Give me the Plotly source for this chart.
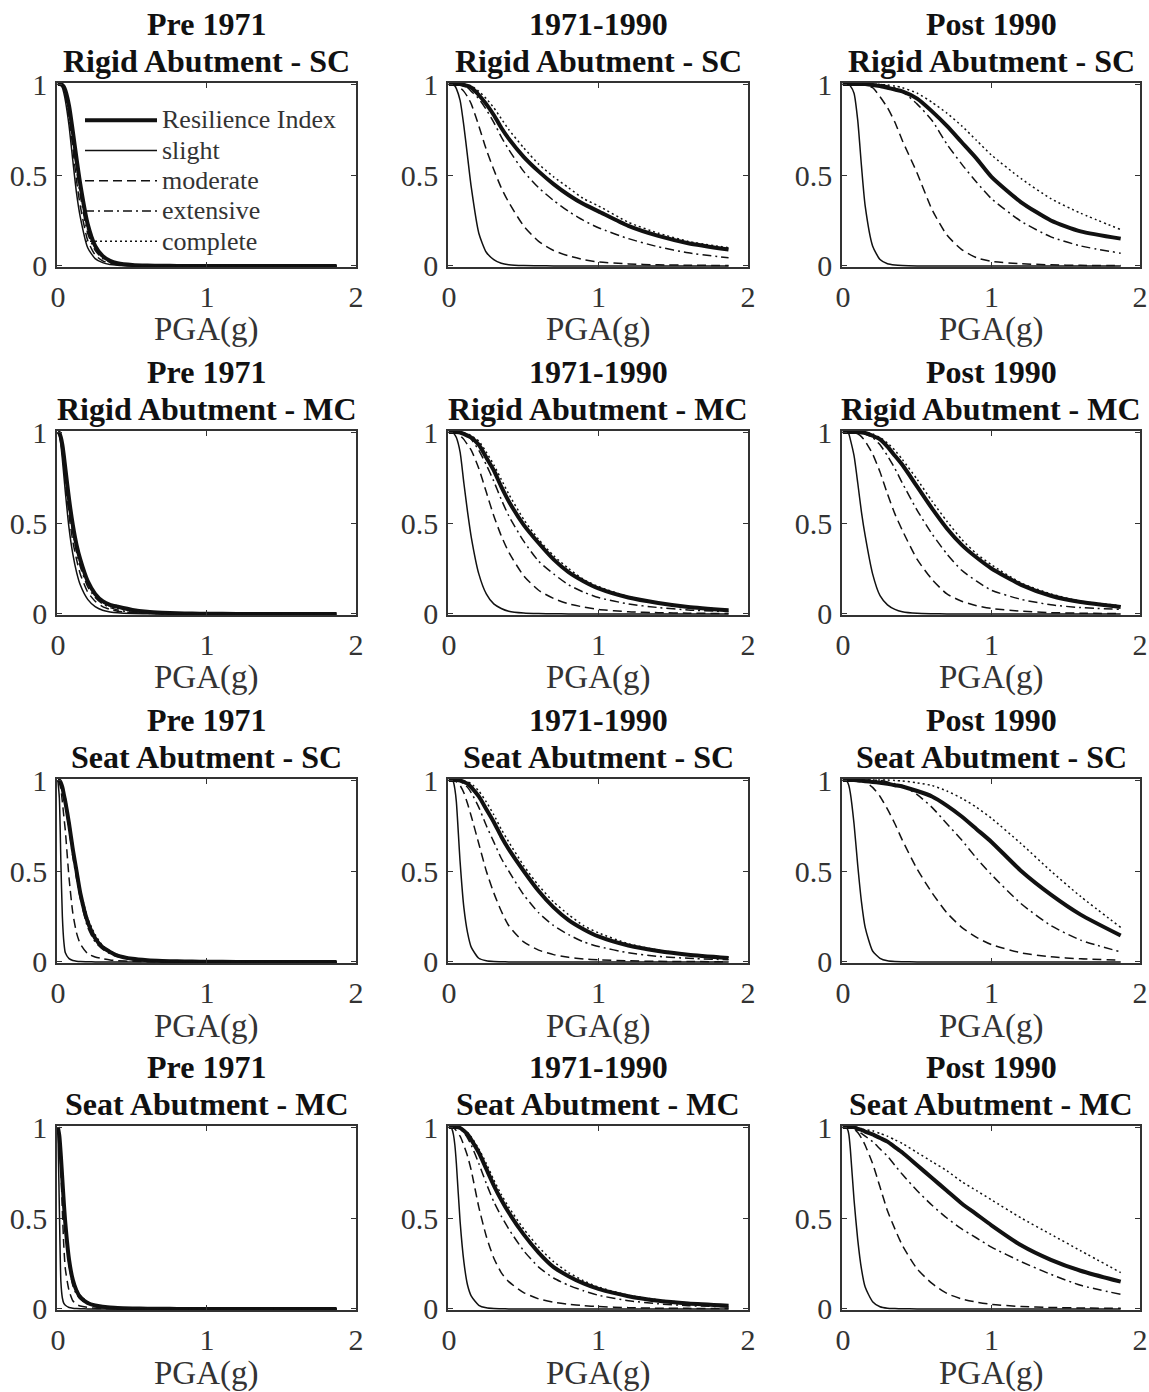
import plotly.graph_objects as go

# Peak ground acceleration sampling points (g)
PGA = [0, 0.01, 0.02, 0.03, 0.04, 0.05, 0.075, 0.1, 0.125, 0.15, 0.2, 0.25, 0.3,
       0.35, 0.4, 0.5, 0.6, 0.7, 0.8, 0.9, 1.0, 1.2, 1.4, 1.6, 1.87]

ERAS = ["Pre 1971", "1971-1990", "Post 1990"]
BRIDGE_TYPES = ["Rigid Abutment - SC", "Rigid Abutment - MC",
                "Seat Abutment - SC", "Seat Abutment - MC"]
SERIES_NAMES = ["Resilience Index", "slight", "moderate", "extensive", "complete"]

# ---- Rigid abutment, single-column bents ----
rigid_sc_pre_ri = [1, 1, 0.999, 0.995, 0.985, 0.965, 0.88, 0.74, 0.59, 0.45, 0.23, 0.11, 0.055, 0.028, 0.015, 0.005, 0.002, 0.001, 0, 0, 0, 0, 0, 0, 0]
rigid_sc_pre_slight = [1, 1, 0.995, 0.98, 0.95, 0.91, 0.77, 0.58, 0.4, 0.27, 0.1, 0.04, 0.018, 0.008, 0.004, 0.001, 0, 0, 0, 0, 0, 0, 0, 0, 0]
rigid_sc_pre_moderate = [1, 1, 0.997, 0.99, 0.97, 0.94, 0.82, 0.65, 0.47, 0.33, 0.14, 0.06, 0.028, 0.013, 0.007, 0.002, 0.001, 0, 0, 0, 0, 0, 0, 0, 0]
rigid_sc_pre_extensive = [1, 1, 0.998, 0.99, 0.975, 0.95, 0.85, 0.69, 0.53, 0.39, 0.18, 0.085, 0.04, 0.02, 0.01, 0.003, 0.001, 0, 0, 0, 0, 0, 0, 0, 0]
rigid_sc_pre_complete = [1, 1, 0.998, 0.993, 0.98, 0.955, 0.86, 0.72, 0.56, 0.42, 0.2, 0.1, 0.05, 0.025, 0.013, 0.004, 0.0015, 0, 0, 0, 0, 0, 0, 0, 0]

rigid_sc_mid_ri = [1, 1, 1, 1, 1, 1, 1, 0.995, 0.99, 0.98, 0.94, 0.89, 0.83, 0.76, 0.7, 0.6, 0.52, 0.45, 0.39, 0.34, 0.3, 0.22, 0.165, 0.125, 0.09]
rigid_sc_mid_slight = [1, 1, 0.998, 0.995, 0.99, 0.975, 0.91, 0.77, 0.6, 0.43, 0.18, 0.075, 0.035, 0.015, 0.007, 0.002, 0.001, 0, 0, 0, 0, 0, 0, 0, 0]
rigid_sc_mid_moderate = [1, 1, 1, 1, 0.998, 0.995, 0.98, 0.96, 0.93, 0.89, 0.77, 0.64, 0.53, 0.43, 0.35, 0.22, 0.135, 0.085, 0.055, 0.035, 0.022, 0.011, 0.006, 0.004, 0.002]
rigid_sc_mid_extensive = [1, 1, 1, 1, 1, 1, 0.998, 0.99, 0.98, 0.96, 0.92, 0.86, 0.79, 0.71, 0.64, 0.52, 0.43, 0.36, 0.3, 0.25, 0.21, 0.15, 0.105, 0.072, 0.045]
rigid_sc_mid_complete = [1, 1, 1, 1, 1, 1, 1, 1, 0.995, 0.99, 0.96, 0.92, 0.87, 0.81, 0.75, 0.65, 0.56, 0.49, 0.43, 0.37, 0.33, 0.24, 0.18, 0.135, 0.1]

rigid_sc_post_ri = [1, 1, 1, 1, 1, 1, 1, 1, 1, 1, 0.995, 0.99, 0.98, 0.97, 0.96, 0.92, 0.85, 0.77, 0.68, 0.59, 0.49, 0.35, 0.25, 0.19, 0.15]
rigid_sc_post_slight = [1, 1, 1, 1, 0.998, 0.99, 0.95, 0.8, 0.55, 0.33, 0.11, 0.035, 0.012, 0.005, 0.002, 0, 0, 0, 0, 0, 0, 0, 0, 0, 0]
rigid_sc_post_moderate = [1, 1, 1, 1, 1, 1, 1, 1, 0.998, 0.995, 0.98, 0.93, 0.87, 0.79, 0.69, 0.51, 0.31, 0.17, 0.09, 0.045, 0.025, 0.012, 0.006, 0.003, 0.002]
rigid_sc_post_extensive = [1, 1, 1, 1, 1, 1, 1, 1, 1, 1, 1, 0.998, 0.99, 0.98, 0.96, 0.89, 0.8, 0.67, 0.56, 0.46, 0.37, 0.245, 0.16, 0.11, 0.07]
rigid_sc_post_complete = [1, 1, 1, 1, 1, 1, 1, 1, 1, 1, 1, 0.998, 0.995, 0.99, 0.98, 0.95, 0.9, 0.84, 0.77, 0.69, 0.61, 0.48, 0.37, 0.29, 0.2]

# ---- Rigid abutment, multi-column bents ----
rigid_mc_pre_ri = [1, 0.995, 0.97, 0.93, 0.87, 0.8, 0.63, 0.49, 0.38, 0.3, 0.18, 0.11, 0.07, 0.05, 0.04, 0.022, 0.012, 0.007, 0.004, 0.002, 0.001, 0, 0, 0, 0]
rigid_mc_pre_slight = [1, 0.98, 0.93, 0.85, 0.76, 0.67, 0.47, 0.33, 0.23, 0.16, 0.08, 0.04, 0.02, 0.011, 0.006, 0.002, 0.001, 0, 0, 0, 0, 0, 0, 0, 0]
rigid_mc_pre_moderate = [1, 0.985, 0.95, 0.89, 0.81, 0.73, 0.54, 0.4, 0.3, 0.22, 0.12, 0.07, 0.04, 0.025, 0.015, 0.006, 0.003, 0.001, 0, 0, 0, 0, 0, 0, 0]
rigid_mc_pre_extensive = [1, 0.99, 0.96, 0.91, 0.84, 0.76, 0.58, 0.45, 0.34, 0.26, 0.15, 0.09, 0.055, 0.035, 0.022, 0.009, 0.004, 0.002, 0.001, 0, 0, 0, 0, 0, 0]
rigid_mc_pre_complete = [1, 0.99, 0.965, 0.92, 0.85, 0.78, 0.6, 0.47, 0.36, 0.28, 0.17, 0.1, 0.065, 0.042, 0.03, 0.015, 0.008, 0.004, 0.002, 0.001, 0, 0, 0, 0, 0]

rigid_mc_mid_ri = [1, 1, 1, 1, 1, 1, 0.998, 0.99, 0.98, 0.97, 0.93, 0.86, 0.79, 0.7, 0.62, 0.49, 0.39, 0.3, 0.23, 0.18, 0.14, 0.09, 0.06, 0.038, 0.02]
rigid_mc_mid_slight = [1, 1, 1, 0.995, 0.985, 0.97, 0.89, 0.72, 0.56, 0.42, 0.22, 0.11, 0.055, 0.03, 0.015, 0.005, 0.002, 0.001, 0, 0, 0, 0, 0, 0, 0]
rigid_mc_mid_moderate = [1, 1, 1, 1, 0.998, 0.995, 0.98, 0.96, 0.93, 0.9, 0.8, 0.67, 0.54, 0.43, 0.34, 0.21, 0.13, 0.085, 0.055, 0.038, 0.025, 0.012, 0.007, 0.004, 0.002]
rigid_mc_mid_extensive = [1, 1, 1, 1, 1, 1, 0.998, 0.99, 0.98, 0.96, 0.9, 0.82, 0.73, 0.63, 0.54, 0.4, 0.29, 0.22, 0.16, 0.12, 0.09, 0.055, 0.035, 0.022, 0.013]
rigid_mc_mid_complete = [1, 1, 1, 1, 1, 1, 1, 0.995, 0.99, 0.98, 0.95, 0.89, 0.82, 0.74, 0.66, 0.52, 0.41, 0.32, 0.25, 0.19, 0.15, 0.095, 0.06, 0.04, 0.022]

rigid_mc_post_ri = [1, 1, 1, 1, 1, 1, 1, 1, 0.998, 0.995, 0.98, 0.96, 0.92, 0.87, 0.82, 0.7, 0.58, 0.47, 0.38, 0.31, 0.25, 0.16, 0.1, 0.065, 0.038]
rigid_mc_post_slight = [1, 1, 1, 0.998, 0.99, 0.96, 0.87, 0.72, 0.56, 0.43, 0.22, 0.1, 0.05, 0.025, 0.012, 0.003, 0.001, 0, 0, 0, 0, 0, 0, 0, 0]
rigid_mc_post_moderate = [1, 1, 1, 1, 1, 1, 0.998, 0.99, 0.975, 0.95, 0.88, 0.78, 0.66, 0.55, 0.46, 0.3, 0.19, 0.11, 0.07, 0.045, 0.03, 0.015, 0.007, 0.004, 0.002]
rigid_mc_post_extensive = [1, 1, 1, 1, 1, 1, 1, 1, 0.998, 0.99, 0.97, 0.93, 0.87, 0.8, 0.72, 0.57, 0.44, 0.33, 0.24, 0.18, 0.13, 0.08, 0.05, 0.035, 0.025]
rigid_mc_post_complete = [1, 1, 1, 1, 1, 1, 1, 1, 1, 0.998, 0.99, 0.97, 0.94, 0.9, 0.85, 0.74, 0.62, 0.51, 0.41, 0.33, 0.27, 0.17, 0.11, 0.07, 0.045]

# ---- Seat abutment, single-column bents ----
seat_sc_pre_ri = [1, 0.997, 0.985, 0.96, 0.92, 0.88, 0.76, 0.62, 0.5, 0.38, 0.22, 0.13, 0.08, 0.055, 0.035, 0.017, 0.009, 0.005, 0.003, 0.002, 0.001, 0, 0, 0, 0]
seat_sc_pre_slight = [1, 0.9, 0.55, 0.25, 0.11, 0.05, 0.018, 0.008, 0.004, 0.002, 0.001, 0, 0, 0, 0, 0, 0, 0, 0, 0, 0, 0, 0, 0, 0]
seat_sc_pre_moderate = [1, 0.985, 0.95, 0.88, 0.8, 0.72, 0.46, 0.27, 0.16, 0.1, 0.045, 0.027, 0.018, 0.011, 0.007, 0.003, 0.001, 0, 0, 0, 0, 0, 0, 0, 0]
seat_sc_pre_extensive = [1, 0.995, 0.98, 0.95, 0.91, 0.86, 0.73, 0.58, 0.46, 0.35, 0.19, 0.11, 0.07, 0.045, 0.03, 0.013, 0.006, 0.003, 0.002, 0.001, 0, 0, 0, 0, 0]
seat_sc_pre_complete = [1, 0.997, 0.985, 0.96, 0.93, 0.9, 0.78, 0.64, 0.52, 0.4, 0.24, 0.15, 0.09, 0.06, 0.04, 0.02, 0.01, 0.005, 0.003, 0.002, 0.001, 0, 0, 0, 0]

seat_sc_mid_ri = [1, 1, 1, 1, 1, 1, 0.998, 0.99, 0.98, 0.96, 0.91, 0.84, 0.77, 0.69, 0.62, 0.5, 0.39, 0.3, 0.23, 0.18, 0.14, 0.09, 0.06, 0.04, 0.022]
seat_sc_mid_slight = [1, 1, 0.998, 0.99, 0.95, 0.88, 0.55, 0.3, 0.16, 0.08, 0.02, 0.006, 0.002, 0.001, 0, 0, 0, 0, 0, 0, 0, 0, 0, 0, 0]
seat_sc_mid_moderate = [1, 1, 1, 1, 0.998, 0.99, 0.97, 0.93, 0.87, 0.8, 0.65, 0.5, 0.38, 0.28, 0.2, 0.11, 0.065, 0.04, 0.025, 0.016, 0.011, 0.006, 0.003, 0.002, 0.001]
seat_sc_mid_extensive = [1, 1, 1, 1, 1, 1, 0.995, 0.98, 0.96, 0.93, 0.85, 0.75, 0.66, 0.57, 0.5, 0.37, 0.27, 0.2, 0.15, 0.11, 0.085, 0.05, 0.03, 0.02, 0.012]
seat_sc_mid_complete = [1, 1, 1, 1, 1, 1, 1, 0.995, 0.99, 0.98, 0.94, 0.88, 0.81, 0.73, 0.66, 0.53, 0.42, 0.33, 0.26, 0.2, 0.16, 0.1, 0.065, 0.042, 0.025]

seat_sc_post_ri = [1, 1, 1, 1, 1, 1, 1, 0.998, 0.996, 0.994, 0.99, 0.985, 0.98, 0.972, 0.965, 0.94, 0.91, 0.86, 0.8, 0.73, 0.66, 0.5, 0.37, 0.26, 0.145]
seat_sc_post_slight = [1, 1, 0.998, 0.99, 0.97, 0.93, 0.76, 0.53, 0.33, 0.19, 0.06, 0.02, 0.006, 0.002, 0.001, 0, 0, 0, 0, 0, 0, 0, 0, 0, 0]
seat_sc_post_moderate = [1, 1, 1, 1, 1, 1, 1, 1, 0.995, 0.99, 0.96, 0.91, 0.84, 0.76, 0.67, 0.51, 0.38, 0.27, 0.19, 0.135, 0.095, 0.05, 0.028, 0.017, 0.01]
seat_sc_post_extensive = [1, 1, 1, 1, 1, 1, 1, 1, 1, 1, 1, 0.998, 0.99, 0.98, 0.97, 0.92, 0.85, 0.76, 0.67, 0.57, 0.48, 0.32, 0.2, 0.12, 0.055]
seat_sc_post_complete = [1, 1, 1, 1, 1, 1, 1, 1, 1, 1, 1, 1, 1, 0.998, 0.995, 0.985, 0.97, 0.94, 0.9, 0.85, 0.79, 0.65, 0.5, 0.36, 0.19]

# ---- Seat abutment, multi-column bents ----
seat_mc_pre_ri = [1, 0.95, 0.84, 0.71, 0.58, 0.47, 0.27, 0.16, 0.1, 0.065, 0.033, 0.019, 0.012, 0.008, 0.005, 0.0025, 0.0012, 0.001, 0, 0, 0, 0, 0, 0, 0]
seat_mc_pre_slight = [1, 0.55, 0.15, 0.06, 0.03, 0.02, 0.008, 0.004, 0.002, 0.001, 0, 0, 0, 0, 0, 0, 0, 0, 0, 0, 0, 0, 0, 0, 0]
seat_mc_pre_moderate = [1, 0.93, 0.77, 0.54, 0.34, 0.22, 0.1, 0.045, 0.025, 0.016, 0.008, 0.004, 0.002, 0.001, 0, 0, 0, 0, 0, 0, 0, 0, 0, 0, 0]
seat_mc_pre_extensive = [1, 0.95, 0.83, 0.68, 0.54, 0.43, 0.24, 0.13, 0.08, 0.055, 0.028, 0.015, 0.009, 0.006, 0.004, 0.002, 0.001, 0, 0, 0, 0, 0, 0, 0, 0]
seat_mc_pre_complete = [1, 0.96, 0.86, 0.73, 0.6, 0.49, 0.29, 0.17, 0.11, 0.075, 0.038, 0.022, 0.013, 0.009, 0.006, 0.003, 0.0015, 0.001, 0, 0, 0, 0, 0, 0, 0]

seat_mc_mid_ri = [1, 1, 1, 1, 1, 1, 0.995, 0.98, 0.96, 0.93, 0.86, 0.77, 0.68, 0.6, 0.53, 0.41, 0.31, 0.23, 0.18, 0.14, 0.11, 0.07, 0.045, 0.03, 0.018]
seat_mc_mid_slight = [1, 1, 0.99, 0.96, 0.9, 0.8, 0.48, 0.26, 0.13, 0.07, 0.02, 0.006, 0.002, 0.001, 0, 0, 0, 0, 0, 0, 0, 0, 0, 0, 0]
seat_mc_mid_moderate = [1, 1, 1, 0.998, 0.99, 0.98, 0.95, 0.9, 0.84, 0.76, 0.56, 0.4, 0.28, 0.2, 0.15, 0.09, 0.055, 0.037, 0.025, 0.018, 0.013, 0.007, 0.004, 0.003, 0.002]
seat_mc_mid_extensive = [1, 1, 1, 1, 1, 1, 0.99, 0.97, 0.94, 0.9, 0.8, 0.69, 0.59, 0.51, 0.44, 0.32, 0.23, 0.17, 0.13, 0.1, 0.075, 0.045, 0.028, 0.018, 0.011]
seat_mc_mid_complete = [1, 1, 1, 1, 1, 1, 0.998, 0.985, 0.97, 0.945, 0.88, 0.8, 0.71, 0.63, 0.56, 0.44, 0.34, 0.26, 0.2, 0.155, 0.12, 0.075, 0.05, 0.033, 0.02]

seat_mc_post_ri = [1, 1, 1, 1, 1, 1, 1, 0.99, 0.985, 0.975, 0.96, 0.94, 0.92, 0.89, 0.86, 0.79, 0.72, 0.65, 0.58, 0.52, 0.46, 0.35, 0.27, 0.21, 0.15]
seat_mc_post_slight = [1, 1, 0.998, 0.99, 0.96, 0.88, 0.6, 0.38, 0.22, 0.12, 0.04, 0.012, 0.004, 0.002, 0.001, 0, 0, 0, 0, 0, 0, 0, 0, 0, 0]
seat_mc_post_moderate = [1, 1, 1, 1, 1, 1, 0.99, 0.97, 0.94, 0.9, 0.8, 0.67, 0.54, 0.44, 0.35, 0.22, 0.14, 0.085, 0.055, 0.037, 0.025, 0.013, 0.008, 0.005, 0.003]
seat_mc_post_extensive = [1, 1, 1, 1, 1, 0.998, 0.99, 0.975, 0.965, 0.95, 0.92, 0.88, 0.84, 0.79, 0.74, 0.65, 0.57, 0.5, 0.44, 0.39, 0.34, 0.26, 0.19, 0.13, 0.08]
seat_mc_post_complete = [1, 1, 1, 1, 1, 1, 1, 0.995, 0.99, 0.985, 0.98, 0.965, 0.95, 0.93, 0.91, 0.86, 0.81, 0.76, 0.7, 0.65, 0.6, 0.5, 0.41, 0.32, 0.2]

# Panels in row-major order: (era title, bridge class title, [RI, slight, moderate, extensive, complete])
panels = [
    (ERAS[0], BRIDGE_TYPES[0], [rigid_sc_pre_ri, rigid_sc_pre_slight, rigid_sc_pre_moderate, rigid_sc_pre_extensive, rigid_sc_pre_complete]),
    (ERAS[1], BRIDGE_TYPES[0], [rigid_sc_mid_ri, rigid_sc_mid_slight, rigid_sc_mid_moderate, rigid_sc_mid_extensive, rigid_sc_mid_complete]),
    (ERAS[2], BRIDGE_TYPES[0], [rigid_sc_post_ri, rigid_sc_post_slight, rigid_sc_post_moderate, rigid_sc_post_extensive, rigid_sc_post_complete]),
    (ERAS[0], BRIDGE_TYPES[1], [rigid_mc_pre_ri, rigid_mc_pre_slight, rigid_mc_pre_moderate, rigid_mc_pre_extensive, rigid_mc_pre_complete]),
    (ERAS[1], BRIDGE_TYPES[1], [rigid_mc_mid_ri, rigid_mc_mid_slight, rigid_mc_mid_moderate, rigid_mc_mid_extensive, rigid_mc_mid_complete]),
    (ERAS[2], BRIDGE_TYPES[1], [rigid_mc_post_ri, rigid_mc_post_slight, rigid_mc_post_moderate, rigid_mc_post_extensive, rigid_mc_post_complete]),
    (ERAS[0], BRIDGE_TYPES[2], [seat_sc_pre_ri, seat_sc_pre_slight, seat_sc_pre_moderate, seat_sc_pre_extensive, seat_sc_pre_complete]),
    (ERAS[1], BRIDGE_TYPES[2], [seat_sc_mid_ri, seat_sc_mid_slight, seat_sc_mid_moderate, seat_sc_mid_extensive, seat_sc_mid_complete]),
    (ERAS[2], BRIDGE_TYPES[2], [seat_sc_post_ri, seat_sc_post_slight, seat_sc_post_moderate, seat_sc_post_extensive, seat_sc_post_complete]),
    (ERAS[0], BRIDGE_TYPES[3], [seat_mc_pre_ri, seat_mc_pre_slight, seat_mc_pre_moderate, seat_mc_pre_extensive, seat_mc_pre_complete]),
    (ERAS[1], BRIDGE_TYPES[3], [seat_mc_mid_ri, seat_mc_mid_slight, seat_mc_mid_moderate, seat_mc_mid_extensive, seat_mc_mid_complete]),
    (ERAS[2], BRIDGE_TYPES[3], [seat_mc_post_ri, seat_mc_post_slight, seat_mc_post_moderate, seat_mc_post_extensive, seat_mc_post_complete]),
]

# Line style for each series
LINE_STYLES = [
    dict(width=4, dash="solid"),
    dict(width=1.5, dash="solid"),
    dict(width=1.5, dash="9px,5px"),
    dict(width=1.5, dash="9px,4px,2px,4px"),
    dict(width=1.5, dash="2px,3px"),
]

W, H = 1149, 1392
FONT = "Liberation Serif"
INK = "#111111"
AXIS = "#333333"
COLS = [(57, 356), (448, 748), (842, 1140)]
ROWS = [(83, 267), (431, 615), (779, 963), (1126, 1310)]

fig = go.Figure()
annotations = []

for i, (era, kind, curves) in enumerate(panels):
    r, c = divmod(i, 3)
    n = i + 1
    sfx = "" if n == 1 else str(n)
    for name, ys, style in zip(SERIES_NAMES, curves, LINE_STYLES):
        fig.add_trace(go.Scatter(
            x=PGA, y=ys, mode="lines",
            name=f'<span style="font-size:26px">{name}</span>',
            xaxis="x" + sfx, yaxis="y" + sfx,
            showlegend=(n == 1), hoverinfo="skip",
            line=dict(color=INK, width=style["width"], dash=style["dash"],
                      shape="spline", smoothing=0.6),
        ))
    x0, x1 = COLS[c]
    y0, y1 = ROWS[r]
    common = dict(showline=True, linecolor=AXIS, linewidth=1.5, mirror="allticks",
                  ticks="inside", ticklen=5, tickwidth=1.2, tickcolor=AXIS,
                  showgrid=False, zeroline=False, automargin=False,
                  tickfont=dict(family=FONT, size=30, color=AXIS))
    fig.layout["xaxis" + sfx] = dict(
        common, domain=[x0 / W, x1 / W], anchor="y" + sfx, range=[-0.006, 2],
        tickvals=[0, 1, 2], ticktext=["0", "1", "2"], ticklabelstandoff=2)
    fig.layout["yaxis" + sfx] = dict(
        common, domain=[1 - y1 / H, 1 - y0 / H], anchor="x" + sfx, range=[-0.006, 1.006],
        tickvals=[0, 0.5, 1], ticktext=["0", "0.5", "1"], ticklabelstandoff=2)

    xc = (x0 + x1) / 2 / W
    annotations.append(dict(text=f"<b>{era}</b>", x=xc, y=1 - (y0 - 59) / H,
                            xref="paper", yref="paper", showarrow=False,
                            xanchor="center", yanchor="middle",
                            font=dict(family=FONT, size=32, color=INK)))
    annotations.append(dict(text=f"<b>{kind}</b>", x=xc, y=1 - (y0 - 22) / H,
                            xref="paper", yref="paper", showarrow=False,
                            xanchor="center", yanchor="middle",
                            font=dict(family=FONT, size=32, color=INK)))
    annotations.append(dict(text="PGA(g)", x=xc, y=1 - (y1 + 63) / H,
                            xref="paper", yref="paper", showarrow=False,
                            xanchor="center", yanchor="middle",
                            font=dict(family=FONT, size=33, color=AXIS)))

fig.update_layout(
    template="none",
    width=W, height=H,
    margin=dict(l=0, r=0, t=0, b=0, autoexpand=False),
    paper_bgcolor="white", plot_bgcolor="white",
    annotations=annotations,
    showlegend=True,
    legend=dict(x=80 / W, y=1 - 100 / H, xanchor="left", yanchor="top",
                bgcolor="rgba(0,0,0,0)", borderwidth=0, itemwidth=72,
                tracegroupgap=0,
                font=dict(family=FONT, size=21, color=AXIS)),
)

fig.write_html("out.html")
